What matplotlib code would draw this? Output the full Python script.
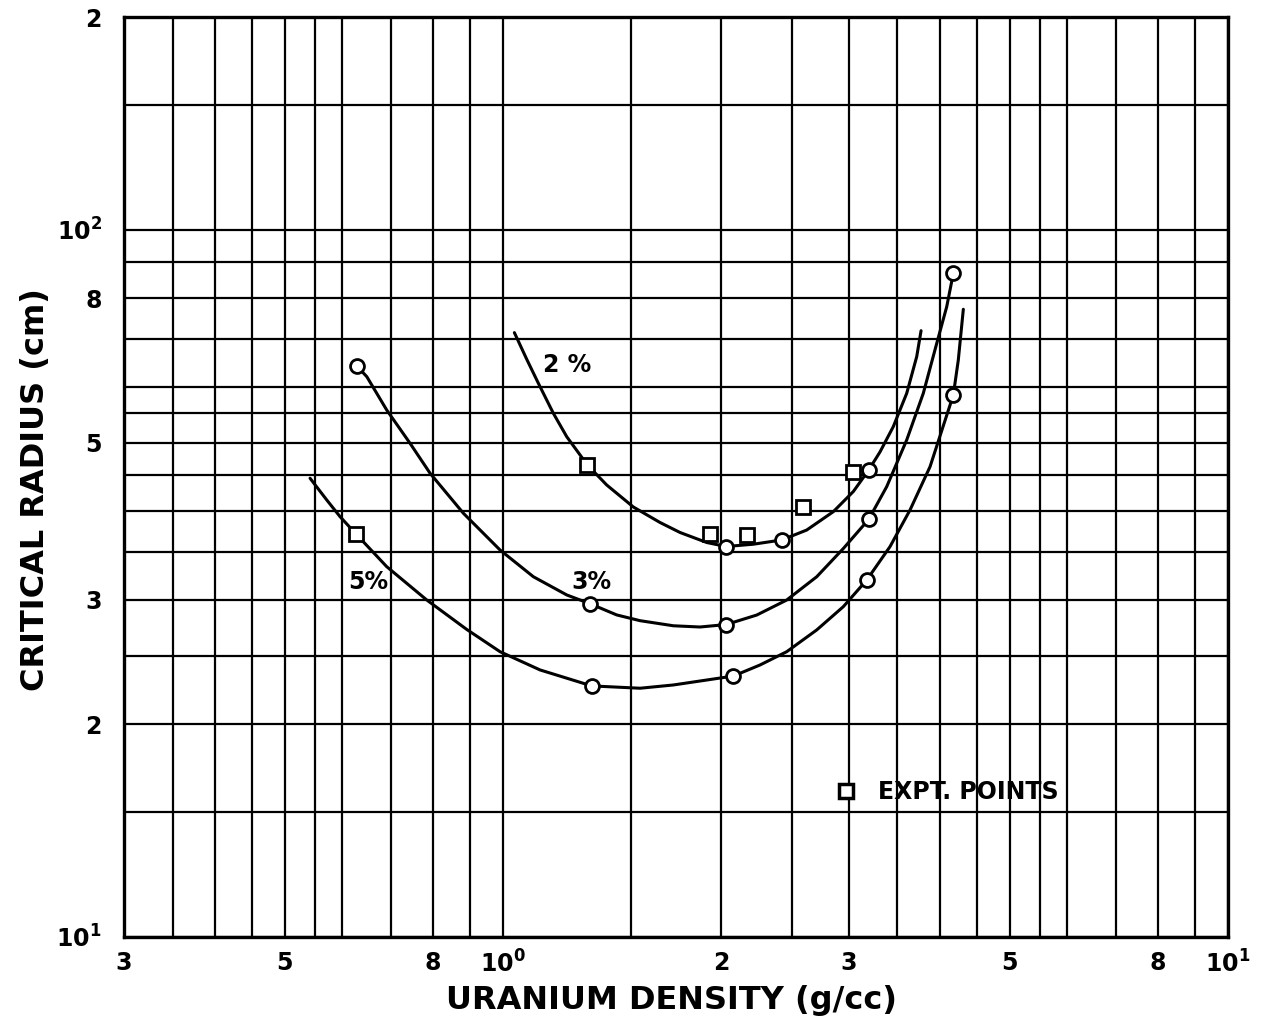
import matplotlib.pyplot as plt
from matplotlib.lines import Line2D

# curves (density g/cc, critical radius cm)
curve_2pct_x = [1.0366, 1.0782, 1.1186, 1.1732, 1.2242, 1.3071, 1.3900, 1.5126, 1.6466,
                1.7543, 1.9098, 2.0306, 2.2142, 2.4232, 2.6237, 2.8551, 3.0424, 3.1944,
                3.3113, 3.4537, 3.6044, 3.7205, 3.7723]
curve_2pct_y = [71.56, 65.60, 60.69, 55.03, 50.99, 46.51, 43.57, 40.56, 38.56,
                37.33, 36.13, 35.66, 35.93, 36.43, 37.63, 39.95, 42.66, 45.75,
                48.53, 52.69, 58.74, 66.18, 72.01]

curve_3pct_x = [0.6284, 0.6487, 0.6910, 0.7442, 0.7931, 0.8816, 0.9905, 1.1011, 1.2242,
                1.3183, 1.4348, 1.5453, 1.7176, 1.8694, 2.0306, 2.2384, 2.4621, 2.7083,
                2.9470, 3.1944, 3.3820, 3.6044, 3.7991, 3.9651, 4.0926, 4.1793]
curve_3pct_y = [64.20, 62.00, 55.63, 49.91, 45.27, 39.74, 35.26, 32.32, 30.46,
                29.60, 28.54, 28.01, 27.55, 27.44, 27.66, 28.53, 29.96, 32.32,
                35.43, 38.96, 43.33, 50.46, 58.73, 69.12, 77.87, 86.82]

curve_5pct_x = [0.5417, 0.5712, 0.5960, 0.6270, 0.6910, 0.7849, 0.8912, 0.9905, 1.1247,
                1.3256, 1.5453, 1.7176, 1.9098, 2.0783, 2.2622, 2.4621, 2.7083, 2.9470,
                3.1748, 3.4180, 3.6425, 3.8815, 4.1793, 4.2460, 4.3143]
curve_5pct_y = [44.54, 41.50, 39.29, 37.14, 33.40, 29.96, 27.22, 25.32, 23.86,
                22.65, 22.48, 22.72, 23.09, 23.39, 24.25, 25.32, 27.18, 29.32,
                31.98, 35.65, 40.17, 46.25, 58.41, 65.46, 77.21]

# calculated points (circles)
calc_2pct_x = [2.031, 2.424, 3.194]
calc_2pct_y = [35.66, 36.43, 45.75]
calc_3pct_x = [0.628, 1.318, 2.031, 3.194, 4.179]
calc_3pct_y = [64.2, 29.6, 27.66, 38.96, 86.8]
calc_5pct_x = [1.325, 2.078, 3.175, 4.179]
calc_5pct_y = [22.65, 23.39, 31.98, 58.4]

# experimental points (squares)
expt_x = [0.627, 1.307, 1.930, 2.168, 2.596, 3.042]
expt_y = [37.15, 46.5, 37.14, 37.02, 40.6, 45.5]

# graph paper rulings and labels
x_major = [0.3, 0.5, 0.8, 1, 2, 3, 5, 8, 10]
x_major_labels = ['3', '5', '8', r'$\mathbf{10}^{\mathbf{0}}$', '2', '3', '5', '8',
                  r'$\mathbf{10}^{\mathbf{1}}$']
x_minor = [0.35, 0.4, 0.45, 0.55, 0.6, 0.7, 0.9, 1.5, 2.5, 3.5, 4, 4.5, 5.5, 6, 7, 9]
y_major = [10, 20, 30, 50, 80, 100, 200]
y_major_labels = [r'$\mathbf{10}^{\mathbf{1}}$', '2', '3', '5', '8',
                  r'$\mathbf{10}^{\mathbf{2}}$', '2']
y_minor = [15, 25, 35, 40, 45, 55, 60, 70, 90, 150]

plt.rcParams['font.family'] = ['DejaVu Sans']
plt.rcParams['font.weight'] = 'bold'
plt.rcParams['mathtext.fontset'] = 'dejavusans'

fig = plt.figure(figsize=(12.68, 10.31), dpi=100)
ax = fig.add_axes([124 / 1268, 94 / 1031, 1104 / 1268, 920 / 1031])
ax.set_xscale('log')
ax.set_yscale('log')
ax.set_xlim(0.3, 10)
ax.set_ylim(10, 200)

ax.set_xticks(x_major)
ax.set_xticklabels(x_major_labels)
ax.set_xticks(x_minor, minor=True)
ax.set_xticklabels([], minor=True)
ax.set_yticks(y_major)
ax.set_yticklabels(y_major_labels)
ax.set_yticks(y_minor, minor=True)
ax.set_yticklabels([], minor=True)
ax.tick_params(which='both', length=0)
ax.tick_params(axis='x', labelsize=17, pad=10)
ax.tick_params(axis='y', labelsize=17, pad=16)
ax.grid(which='both', color='black', linewidth=1.6)
ax.set_axisbelow(True)
for sp in ax.spines.values():
    sp.set_linewidth(2.4)

line_kw = dict(color='black', linewidth=2.2, zorder=3, solid_joinstyle='round',
               solid_capstyle='round')
ax.plot(curve_2pct_x, curve_2pct_y, **line_kw)
ax.plot(curve_3pct_x, curve_3pct_y, **line_kw)
ax.plot(curve_5pct_x, curve_5pct_y, **line_kw)

circ_kw = dict(linestyle='none', marker='o', markersize=10, markerfacecolor='white',
               markeredgecolor='black', markeredgewidth=2, zorder=4)
ax.plot(calc_2pct_x, calc_2pct_y, **circ_kw)
ax.plot(calc_3pct_x, calc_3pct_y, **circ_kw)
ax.plot(calc_5pct_x, calc_5pct_y, **circ_kw)
ax.plot(expt_x, expt_y, linestyle='none', marker='s', markersize=10,
        markerfacecolor='white', markeredgecolor='black', markeredgewidth=2, zorder=4)

ax.text(1.224, 64.4, '2 %', fontsize=17, fontweight='bold', ha='center', va='center',
        zorder=5)
ax.text(1.325, 31.8, '3%', fontsize=17, fontweight='bold', ha='center', va='center',
        zorder=5)
ax.text(0.651, 31.8, '5%', fontsize=17, fontweight='bold', ha='center', va='center',
        zorder=5)

handle = Line2D([], [], linestyle='none', marker='s', markersize=10,
                markerfacecolor='white', markeredgecolor='black', markeredgewidth=2.5)
ax.legend([handle], ['EXPT. POINTS'], loc='center left',
          bbox_to_anchor=(0.643, 0.1576), frameon=False, borderpad=0,
          borderaxespad=0, handlelength=1, handletextpad=0.85,
          prop={'size': 17, 'weight': 'bold'})

ax.set_xlabel('URANIUM DENSITY (g/cc)', fontsize=23, fontweight='bold', va='center')
ax.xaxis.set_label_coords(0.496, -0.0685)
ax.set_ylabel('CRITICAL RADIUS (cm)', fontsize=23, fontweight='bold', va='center')
ax.yaxis.set_label_coords(-0.0806, 0.486)

fig.savefig('out.png', dpi=100)
